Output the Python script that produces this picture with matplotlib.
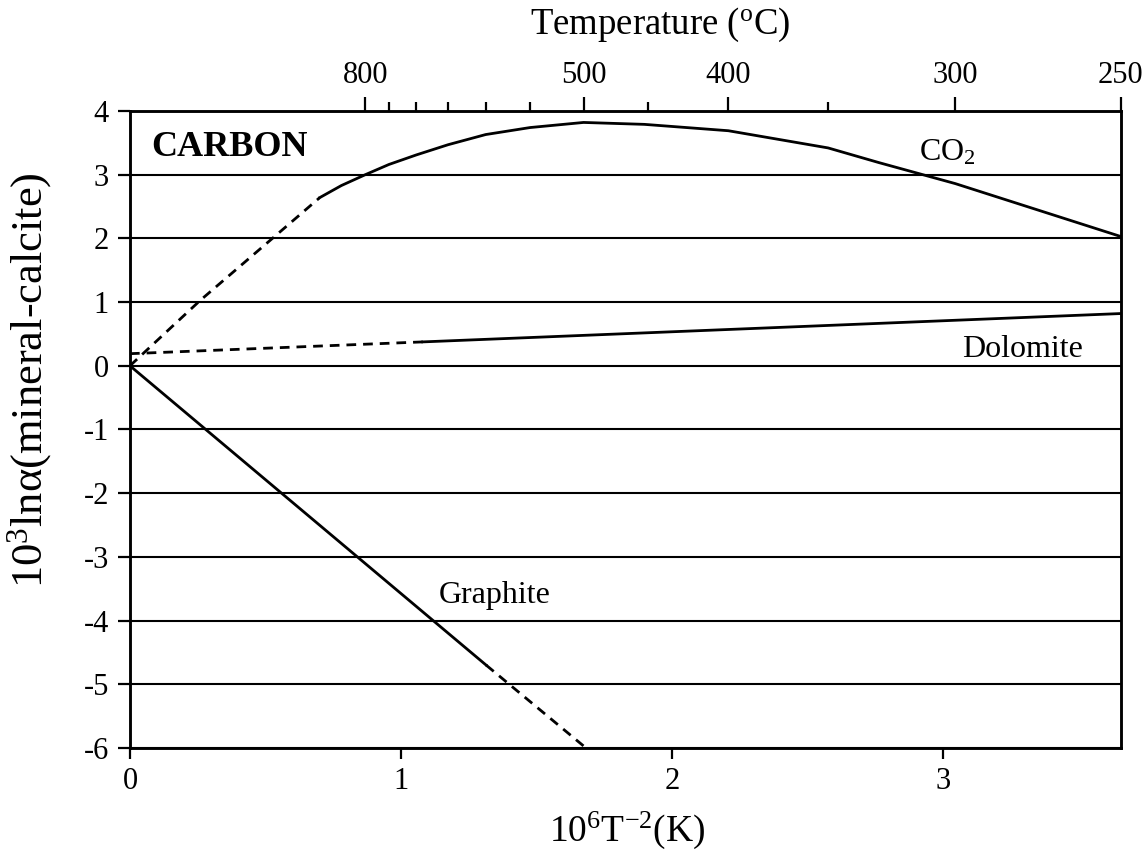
"""
Carbon isotope fractionation mineral-calcite vs 10^6/T^2, with temperature scale on top.
"""

import matplotlib

matplotlib.use("Agg")
import matplotlib.pyplot as plt

plt.rcParams["font.family"] = ["Liberation Serif", "DejaVu Serif"]
plt.rcParams["mathtext.fontset"] = "custom"
plt.rcParams["mathtext.rm"] = "Liberation Serif"
plt.rcParams["mathtext.it"] = "Liberation Serif:italic"
plt.rcParams["mathtext.bf"] = "Liberation Serif:bold"
plt.rcParams["axes.unicode_minus"] = False

# --- data (x = 10^6/T^2, y = 10^3 ln alpha) ---
CO2_DASH_X = [0.0, 0.26, 0.52, 0.70]
CO2_DASH_Y = [0.0, 1.03, 1.98, 2.64]
CO2_X = [0.70, 0.78, 0.868, 0.955, 1.056, 1.173, 1.312, 1.476, 1.673, 1.897, 2.207, 2.575, 2.762, 3.044, 3.654]
CO2_Y = [2.64, 2.83, 3.00, 3.16, 3.31, 3.47, 3.63, 3.74, 3.82, 3.79, 3.69, 3.42, 3.19, 2.86, 2.03]

DOL_DASH_X = [0.0, 1.08]
DOL_DASH_Y = [0.19, 0.375]
DOL_X = [1.08, 3.654]
DOL_Y = [0.375, 0.82]

GRA_X = [0.0, 1.314]
GRA_Y = [0.0, -4.70]
GRA_DASH_X = [1.314, 1.682]
GRA_DASH_Y = [-4.70, -6.0]

X_TICKS = [0, 1, 2, 3]
Y_TICKS = [4, 3, 2, 1, 0, -1, -2, -3, -4, -5, -6]
TEMP_MAJOR = [800, 500, 400, 300, 250]
TEMP_MINOR = [750, 700, 650, 600, 550, 450, 350]


def t_to_x(t_c):
    return [1e6 / (t + 273.15) ** 2 for t in t_c]


def main() -> None:
    fig = plt.figure(figsize=(11.47, 8.57), dpi=100)
    ax = fig.add_axes([0.1133, 0.1272, 0.8637, 0.7433])

    xmax = t_to_x([250])[0]
    ax.set_xlim(0, xmax)
    ax.set_ylim(-6, 4)

    for y in Y_TICKS:
        ax.axhline(y, color="black", lw=1.5, zorder=1)

    lw = 2.0
    dash = (0, (3.5, 2.5))
    ax.plot(CO2_DASH_X, CO2_DASH_Y, color="black", lw=lw, ls=dash, zorder=3)
    ax.plot(CO2_X, CO2_Y, color="black", lw=lw, zorder=3)
    ax.plot(DOL_DASH_X, DOL_DASH_Y, color="black", lw=lw, ls=dash, zorder=3)
    ax.plot(DOL_X, DOL_Y, color="black", lw=lw, zorder=3)
    ax.plot(GRA_X, GRA_Y, color="black", lw=lw, zorder=3)
    ax.plot(GRA_DASH_X, GRA_DASH_Y, color="black", lw=lw, ls=dash, zorder=3)

    ax.text(0.08, 3.42, "CARBON", fontsize=26, fontweight="bold", va="center", ha="left")
    ax.text(2.91, 3.35, "CO$_2$", fontsize=23, va="center", ha="left")
    ax.text(3.07, 0.26, "Dolomite", fontsize=23, va="center", ha="left")
    ax.text(1.14, -3.6, "Graphite", fontsize=23, va="center", ha="left")

    ax.set_xticks(X_TICKS)
    ax.set_yticks(Y_TICKS)
    ax.tick_params(axis="both", direction="out", length=8, width=1.6, labelsize=22, pad=6)
    ax.tick_params(axis="y", length=9)
    for s in ax.spines.values():
        s.set_linewidth(1.8)

    ax.set_xlabel("10$^{6}$T$^{-2}$(K)", fontsize=27, va="center")
    ax.xaxis.set_label_coords(0.502, -0.129)
    ax.set_ylabel("10$^{3}$lnα(mineral-calcite)", fontsize=32, va="center")
    ax.yaxis.set_label_coords(-0.101, 0.578)

    top = ax.twiny()
    top.set_xlim(ax.get_xlim())
    top.set_xticks(t_to_x(TEMP_MAJOR))
    top.set_xticklabels([str(t) for t in TEMP_MAJOR])
    top.set_xticks(t_to_x(TEMP_MINOR), minor=True)
    top.tick_params(axis="x", which="major", direction="out", length=10, width=1.6, labelsize=22, pad=5)
    top.tick_params(axis="x", which="minor", direction="out", length=6.5, width=1.6)
    top.set_xlabel("Temperature ($^{\\rm o}$C)", fontsize=26.5, va="center")
    top.xaxis.set_label_coords(0.535, 1.135)
    for s in top.spines.values():
        s.set_linewidth(1.8)

    fig.savefig("out.png", dpi=100)
    plt.close(fig)


if __name__ == "__main__":
    main()
